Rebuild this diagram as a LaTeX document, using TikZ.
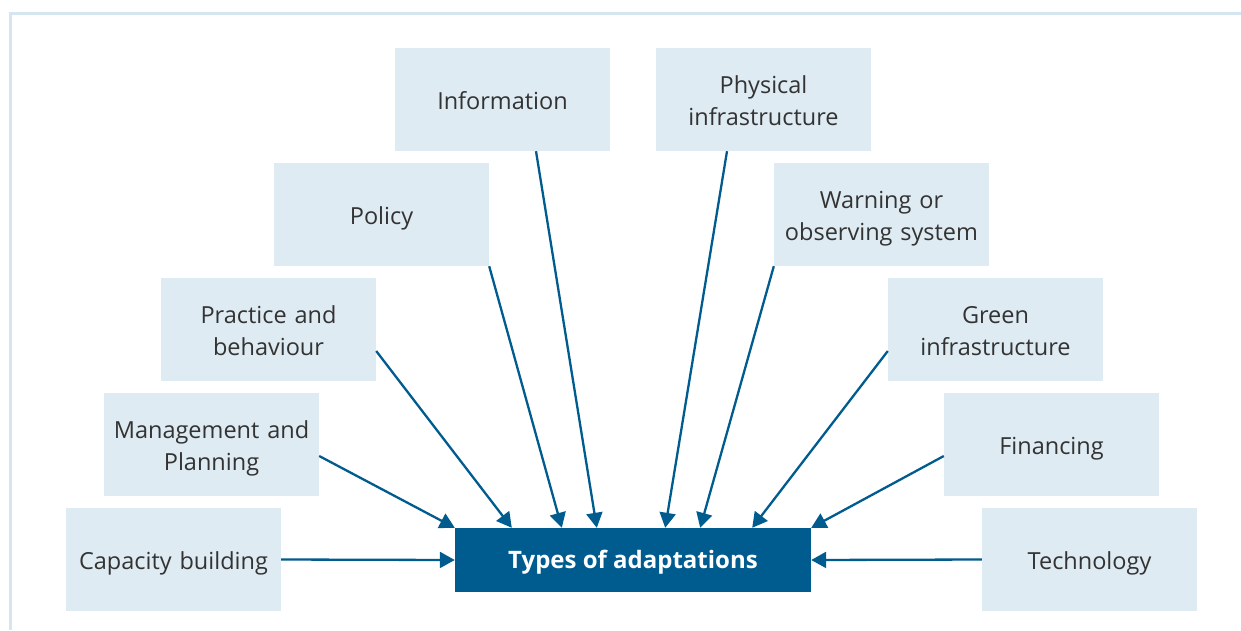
\documentclass[tikz,border=0pt]{standalone}
\usepackage{fontspec}
\setmainfont{Open Sans}
\usetikzlibrary{arrows.meta}
\definecolor{boxfill}{HTML}{DEEBF2}
\definecolor{mainblue}{HTML}{005B8F}
\definecolor{framecol}{HTML}{D6E6F0}
\definecolor{txt}{HTML}{333333}
\tikzset{
  typebox/.style={fill=boxfill, minimum width=215pt, minimum height=103pt, text width=211pt, align=center, inner sep=0pt, text=txt, font=\fontsize{23.5}{32}\selectfont, text height=23pt, text depth=4pt},
  twoline/.style={typebox, text height=23pt, text depth=35pt},
  mainbox/.style={fill=mainblue, minimum width=356pt, minimum height=64pt, inner sep=0pt, text=white, font=\fontsize{24}{28}\selectfont\bfseries, text height=18pt, text depth=1pt},
  conn/.style={draw=mainblue, line width=2.3pt, -{Triangle[length=15pt,width=16pt]}},
}
\begin{document}
\begin{tikzpicture}[x=1pt,y=-1pt]
\useasboundingbox (0,0) rectangle (1241,630);
\draw[framecol, line width=3pt] (9,13.5) -- (1241,13.5);
\draw[framecol, line width=3pt] (10.5,13) -- (10.5,630);
\node[typebox] (info) at (502.5,99.5) {Information};
\node[twoline] (phys) at (763.5,99.5) {Physical\\infrastructure};
\node[typebox] (policy) at (381.5,214.5) {Policy};
\node[twoline] (warn) at (881.5,214.5) {Warning or\\observing system};
\node[twoline] (prac) at (268.5,329.5) {Practice and\\behaviour};
\node[twoline] (green) at (995.5,329.5) {Green\\infrastructure};
\node[twoline] (mgmt) at (211.5,444.5) {Management and\\Planning};
\node[typebox] (fin) at (1051.5,444.5) {Financing};
\node[typebox] (cap) at (173.5,559.5) {Capacity building};
\node[typebox] (tech) at (1089.5,559.5) {Technology};
\node[mainbox] (main) at (633,560) {Types of adaptations};
\draw[conn] (cap.east) -- (main.west);
\draw[conn] (tech.west) -- (main.east);
\draw[conn] ([yshift=-11.5pt]mgmt.east) -- (main.north west);
\draw[conn] ([yshift=-11.5pt]fin.west) -- (main.north east);
\draw[conn] ([yshift=-21.5pt]prac.east) -- ([xshift=57pt]main.north west);
\draw[conn] ([yshift=-21.5pt]green.west) -- ([xshift=-59pt]main.north east);
\draw[conn] (policy.south east) -- ([xshift=107pt]main.north west);
\draw[conn] (warn.south west) -- ([xshift=-111pt]main.north east);
\draw[conn] ([xshift=33.5pt]info.south) -- ([xshift=142pt]main.north west);
\draw[conn] ([xshift=-36.5pt]phys.south) -- ([xshift=-146pt]main.north east);
\end{tikzpicture}
\end{document}
